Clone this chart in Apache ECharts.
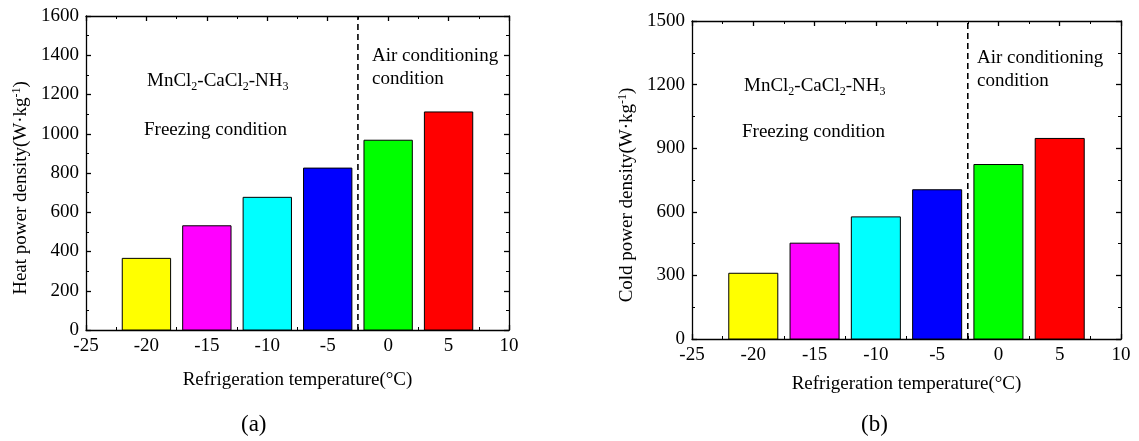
<!DOCTYPE html>
<html lang="en">
<head>
  <meta charset="UTF-8">
  <title>Heat and cold power density</title>
  <script src="https://cdn.jsdelivr.net/npm/echarts@6/dist/echarts.min.js"></script>
  <style>
    html, body { margin: 0; padding: 0; background: #fff; }
  </style>
</head>
<body>

<div id="chart" style="width: 1139px; height: 441px;"></div>

<script>
// refrigeration temperature of each bar (°C)
var temps = [-20, -15, -10, -5, 0, 5];
// (a) heat power density, W/kg
var heatPower = [365, 531, 676, 825, 967, 1111];
// (b) cold power density, W/kg
var coldPower = [310, 452, 576, 704, 823, 946];
var barColors = ['#ffff00', '#ff00ff', '#00ffff', '#0000ff', '#00ff00', '#ff0000'];
// freezing / air conditioning border
var dividerX = -2.5;
var barHalfWidth = 2;

var FONT = '"Liberation Serif", "Times New Roman", serif';
var FS = 19;

function renderBar(params, api) {
  var x = api.value(0);
  var v = api.value(1);
  var p0 = api.coord([x - barHalfWidth, v]);
  var p1 = api.coord([x + barHalfWidth, 0]);
  return {
    type: 'rect',
    shape: { x: p0[0], y: p0[1], width: p1[0] - p0[0], height: p1[1] - p0[1] },
    style: { fill: barColors[params.dataIndex], stroke: '#000', lineWidth: 1 }
  };
}

function pairs(xs, ys) {
  return xs.map(function (x, i) { return [x, ys[i]]; });
}

var lineStyle = { color: '#000', width: 1.3 };

function xAxes(gridIndex, name, gap) {
  var base = {
    gridIndex: gridIndex, type: 'value', min: -25, max: 10, interval: 5,
    axisLine: { show: true, onZero: false, lineStyle: lineStyle },
    axisTick: { show: true, inside: true, length: 5, lineStyle: lineStyle },
    minorTick: { show: true, splitNumber: 2, length: 3, lineStyle: { color: '#000', width: 1 } },
    splitLine: { show: false }
  };
  var bottom = Object.assign({}, base, {
    position: 'bottom',
    name: name, nameLocation: 'middle', nameGap: gap,
    nameTextStyle: { fontFamily: FONT, fontSize: FS, color: '#000' },
    axisLabel: { fontFamily: FONT, fontSize: FS, color: '#000', margin: 7 }
  });
  var top = Object.assign({}, base, { position: 'top', axisLabel: { show: false } });
  return [bottom, top];
}

function yAxes(gridIndex, max, interval, name, gap) {
  var base = {
    gridIndex: gridIndex, type: 'value', min: 0, max: max, interval: interval,
    axisLine: { show: true, onZero: false, lineStyle: lineStyle },
    axisTick: { show: true, inside: true, length: 5, lineStyle: lineStyle },
    minorTick: { show: true, splitNumber: 2, length: 3, lineStyle: { color: '#000', width: 1 } },
    splitLine: { show: false }
  };
  var left = Object.assign({}, base, {
    position: 'left',
    name: name, nameLocation: 'middle', nameGap: gap,
    nameTextStyle: {
      fontFamily: FONT, fontSize: FS, color: '#000', padding: [0, 30, 0, 0],
      rich: { sup: { fontFamily: FONT, fontSize: 12, color: '#000', padding: [0, 0, 8, 0] } }
    },
    axisLabel: {
      fontFamily: FONT, fontSize: FS, color: '#000', margin: 7,
      formatter: function (v) { return String(v); }
    }
  });
  var right = Object.assign({}, base, { position: 'right', axisLabel: { show: false } });
  return [left, right];
}

var subRich = {
  sub: { fontFamily: FONT, fontSize: 12, fill: '#000', padding: [10, 0, 0, 0] }
};

function noteText(x, y, text, rich) {
  return {
    type: 'text', left: x, top: y,
    style: {
      text: text, fontFamily: FONT, fontSize: FS, fill: '#000', lineHeight: 23,
      rich: rich
    }
  };
}

var chart = echarts.init(document.getElementById('chart'));

var option = {
  animation: false,
  backgroundColor: '#fff',
  grid: [
    { left: 86, top: 16, width: 423, height: 314 },
    { left: 692, top: 21, width: 429, height: 318 }
  ],
  xAxis: xAxes(0, 'Refrigeration temperature(°C)', 41)
    .concat(xAxes(1, 'Refrigeration temperature(°C)', 36)),
  yAxis: yAxes(0, 1600, 200, 'Heat power density(W·kg{sup|-1})', 55)
    .concat(yAxes(1, 1500, 300, 'Cold power density(W·kg{sup|-1})', 55)),
  series: [
    {
      type: 'custom', xAxisIndex: 0, yAxisIndex: 0,
      renderItem: renderBar, data: pairs(temps, heatPower), z: 2
    },
    {
      type: 'line', xAxisIndex: 0, yAxisIndex: 0, symbol: 'none',
      lineStyle: { color: '#000', width: 1.6, type: [6, 4] },
      data: [[dividerX, 0], [dividerX, 1600]], z: 3
    },
    {
      type: 'custom', xAxisIndex: 2, yAxisIndex: 2,
      renderItem: renderBar, data: pairs(temps, coldPower), z: 2
    },
    {
      type: 'line', xAxisIndex: 2, yAxisIndex: 2, symbol: 'none',
      lineStyle: { color: '#000', width: 1.6, type: [6, 4] },
      data: [[dividerX, 0], [dividerX, 1500]], z: 3
    }
  ],
  graphic: [
    noteText(147, 70, 'MnCl{sub|2}-CaCl{sub|2}-NH{sub|3}', subRich),
    noteText(144, 119, 'Freezing condition'),
    noteText(372, 45, 'Air conditioning\ncondition'),
    noteText(744, 75, 'MnCl{sub|2}-CaCl{sub|2}-NH{sub|3}', subRich),
    noteText(742, 121, 'Freezing condition'),
    noteText(977, 47, 'Air conditioning\ncondition'),
    {
      type: 'text', left: 241, top: 413,
      style: { text: '(a)', fontFamily: FONT, fontSize: 23, fill: '#000' }
    },
    {
      type: 'text', left: 861, top: 413,
      style: { text: '(b)', fontFamily: FONT, fontSize: 23, fill: '#000' }
    }
  ]
};

chart.setOption(option);
</script>

</body>
</html>
